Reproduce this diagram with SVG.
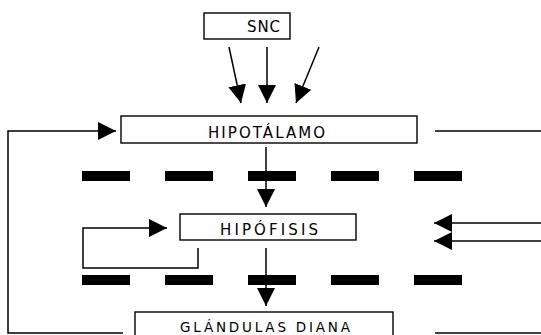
<svg xmlns="http://www.w3.org/2000/svg" width="541" height="335" viewBox="0 0 541 335">
<style>
.box{fill:#fff;stroke:#000;stroke-width:1.4}
.ln{fill:none;stroke:#000;stroke-width:1.5}
.lbl{font-family:"DejaVu Sans","Liberation Sans",sans-serif;font-size:15px;fill:#000;text-anchor:start}
.dash{fill:#000}
</style>
<defs>
<marker id="ah" markerUnits="userSpaceOnUse" markerWidth="20" markerHeight="20" refX="18" refY="9" orient="auto">
<path d="M0,0 L18,9 L0,18 Z" fill="#000"/>
</marker>
</defs>
<rect width="541" height="335" fill="#fff"/>
<g id="connectors">
<line class="ln" x1="229" y1="47" x2="241" y2="103" marker-end="url(#ah)"/>
<line class="ln" x1="267" y1="47" x2="267" y2="103" marker-end="url(#ah)"/>
<line class="ln" x1="319" y1="47" x2="296" y2="103" marker-end="url(#ah)"/>
<polyline class="ln" points="123,333 8,333 8,131 116,131" marker-end="url(#ah)"/>
<line class="ln" x1="435" y1="131" x2="541" y2="131"/>
<line class="ln" x1="266" y1="147" x2="266" y2="207" marker-end="url(#ah)"/>
<polyline class="ln" points="198,248 198,268 83,268 83,228 167,228" marker-end="url(#ah)"/>
<line class="ln" x1="541" y1="223" x2="434" y2="223" marker-end="url(#ah)"/>
<line class="ln" x1="541" y1="241" x2="434" y2="241" marker-end="url(#ah)"/>
<line class="ln" x1="266" y1="248" x2="266" y2="306" marker-end="url(#ah)"/>
<line class="ln" x1="435" y1="333" x2="541" y2="333"/>
</g>
<g id="dashes">
<rect class="dash" x="82" y="171" width="48" height="10"/>
<rect class="dash" x="165" y="171" width="48" height="10"/>
<rect class="dash" x="248" y="171" width="48" height="10"/>
<rect class="dash" x="331" y="171" width="48" height="10"/>
<rect class="dash" x="414" y="171" width="48" height="10"/>
<rect class="dash" x="82" y="275" width="48" height="10"/>
<rect class="dash" x="165" y="275" width="48" height="10"/>
<rect class="dash" x="248" y="275" width="48" height="10"/>
<rect class="dash" x="331" y="275" width="48" height="10"/>
<rect class="dash" x="414" y="275" width="48" height="10"/>
</g>
<g id="snc">
<rect class="box" x="204" y="13" width="86" height="26"/>
<text class="lbl" x="247" y="32" textLength="33" lengthAdjust="spacing">SNC</text>
</g>
<g id="hipotalamo">
<rect class="box" x="121" y="116" width="296" height="27"/>
<text class="lbl" x="208" y="137.5" textLength="117" lengthAdjust="spacing">HIPOTÁLAMO</text>
</g>
<g id="hipofisis">
<rect class="box" x="180" y="214" width="176" height="26"/>
<text class="lbl" x="220" y="235" textLength="98" lengthAdjust="spacing">HIPÓFISIS</text>
</g>
<g id="glandulas">
<rect class="box" x="135" y="312" width="258" height="30"/>
<text class="lbl" x="180" y="331.5" style="font-size:13.5px" textLength="170" lengthAdjust="spacing">GLÁNDULAS DIANA</text>
</g>
</svg>
